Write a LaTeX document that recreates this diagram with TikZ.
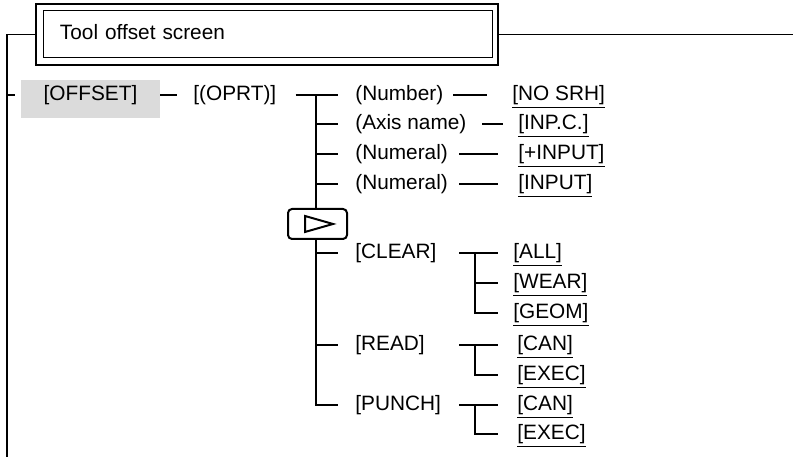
\documentclass[tikz,border=0pt]{standalone}
\usepackage{fontspec}
\setmainfont{Liberation Sans}
\usetikzlibrary{positioning}

\begin{document}
\begin{tikzpicture}[x=0.5pt, y=-0.5pt,
    every node/.style={font=\fontsize{10.4pt}{12pt}\selectfont},
    item/.style={inner sep=0pt, anchor=west, text height=7.6pt, text depth=2.2pt},
    softkey/.style={item},
    screenbox/.style={draw, line width=1pt, minimum width=231pt, minimum height=30.5pt, inner xsep=12pt, text width=207pt, align=left, text height=7.6pt, text depth=2.2pt},
    shadekey/.style={fill=black!14, anchor=base, minimum width=69.5pt, inner sep=0pt, text height=10.2pt, text depth=8.8pt},
    nextkey/.style={draw, line width=1pt, rounded corners=2pt, fill=white, minimum width=29.5pt, minimum height=15pt, inner sep=0pt},
    conn/.style={line width=0.75pt}
]
\useasboundingbox (0,0) rectangle (794,458);

% screen title
\node[screenbox] (screen) at (267,34.5) {Tool offset screen};
\draw[line width=0.5pt] ([xshift=4pt,yshift=-4pt]screen.north west) rectangle ([xshift=-3.5pt,yshift=4pt]screen.south east);

% first levels
\node[shadekey] (offset) at (90.5,100.4) {[OFFSET]};
\node[item] (oprt) at (193,95) {[(OPRT)]};

\node[item] (number) at (355,95) {(Number)};
\node[item] (axis) at (355,124) {(Axis name)};
\node[item] (numeralA) at (355,154) {(Numeral)};
\node[item] (numeralB) at (355,184) {(Numeral)};
\node[item] (clear) at (355,253) {[CLEAR]};
\node[item] (read) at (355,345) {[READ]};
\node[item] (punch) at (355,405) {[PUNCH]};

% soft keys
\node[softkey] (nosrh) at (512,95) {\underline{[NO SRH]}};
\node[softkey] (inpc) at (518,124) {\underline{[INP.C.]}};
\node[softkey] (plusinput) at (518,154) {\underline{[+INPUT]}};
\node[softkey] (input) at (518,184) {\underline{[INPUT]}};
\node[softkey] (all) at (513,253) {\underline{[ALL]}};
\node[softkey] (wear) at (513,283) {\underline{[WEAR]}};
\node[softkey] (geom) at (513,313) {\underline{[GEOM]}};
\node[softkey] (readcan) at (517,345) {\underline{[CAN]}};
\node[softkey] (readexec) at (517,375) {\underline{[EXEC]}};
\node[softkey] (punchcan) at (517,405) {\underline{[CAN]}};
\node[softkey] (punchexec) at (517,434) {\underline{[EXEC]}};

% rails
\coordinate (rail) at (7,457);
\coordinate (railend) at (793,0);
\draw[conn] (screen.west) -| (rail);
\draw[conn] (screen.east) -- (screen.east -| railend);
\draw[conn] (rail |- oprt.west) -- ([xshift=-3pt,yshift=2.7pt]offset.base west);
\draw[conn] ([yshift=2.7pt]offset.base east) -- ([xshift=-8pt]oprt.west);

% main fork
\coordinate (fork) at ([xshift=-19.5pt]number.west);
\draw[conn] ([xshift=9.5pt]oprt.east) -- ([xshift=-8.5pt]number.west);
\draw[conn] (fork) |- ([xshift=-8.5pt]punch.west);
\foreach \n in {axis, numeralA, numeralB, clear, read}
    \draw[conn] (fork |- \n.west) -- ([xshift=-8.5pt]\n.west);

\node[nextkey] (next) at (317.5,224) {};
\draw[line width=1pt] ([xshift=-6.25pt,yshift=4pt]next.center) -- ([xshift=7.75pt]next.center) -- ([xshift=-6.25pt,yshift=-4pt]next.center) -- cycle;

% second levels
\draw[conn] ([xshift=-29.5pt]nosrh.west) -- ([xshift=-12.5pt]nosrh.west);
\draw[conn] ([xshift=-18pt]inpc.west) -- ([xshift=-7.5pt]inpc.west);
\foreach \n in {plusinput, input}
    \draw[conn] ([xshift=-29.5pt]\n.west) -- ([xshift=-10pt]\n.west);

\draw[conn] ([xshift=-27pt]all.west) -- ([xshift=-7.5pt]all.west);
\draw[conn] ([xshift=-19pt]all.west) |- ([xshift=-7.5pt]geom.west);
\draw[conn] ([xshift=-19pt]all.west |- wear.west) -- ([xshift=-7.5pt]wear.west);

\foreach \top/\bot in {readcan/readexec, punchcan/punchexec} {
    \draw[conn] ([xshift=-29pt]\top.west) -- ([xshift=-9.5pt]\top.west);
    \draw[conn] ([xshift=-21pt]\top.west) |- ([xshift=-9.5pt]\bot.west);
}

\end{tikzpicture}
\end{document}
